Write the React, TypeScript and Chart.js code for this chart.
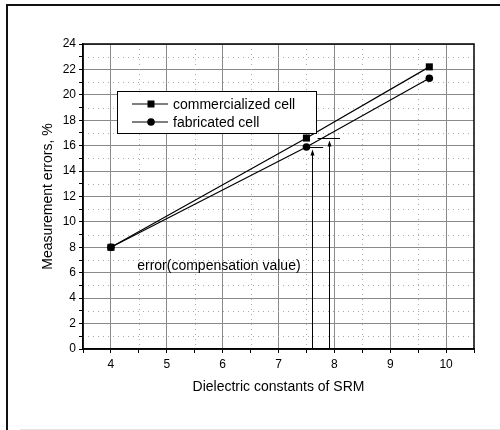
import React, { useEffect, useRef } from 'react';
import { Chart, registerables } from 'chart.js';

Chart.register(...registerables);

// ---- data ----
const xValues = [4, 7.5, 9.7];
const commercialized = [8, 16.6, 22.2];
const fabricated = [8, 15.9, 21.3];
const seriesLabels = ['commercialized cell', 'fabricated cell'];
const xAxisTitle = 'Dielectric constants of SRM';
const yAxisTitle = 'Measurement errors, %';

// annotation (data coordinates)
const arrowX = [7.6, 7.9];
const arrowTop = [15.7, 16.4];
const leaderY = [15.9, 16.6];
const leaderFrom = [7.5, 7.7];
const leaderTo = [7.8, 8.1];
const noteText = 'error(compensation value)';
const notePos = [4.47, 6.2];

const FONT = '"Liberation Sans", Arial, sans-serif';
const MAJOR_GRID = '#8a8a8a';

const isInt = (v: number) => Math.abs(v - Math.round(v)) < 1e-6;

const decor = {
  id: 'decor',
  beforeDatasetsDraw(chart: any) {
    const { ctx, chartArea: a, scales } = chart;
    const x = scales.x, y = scales.y;
    ctx.save();
    ctx.strokeStyle = '#aaaaaa';
    ctx.lineWidth = 1;
    ctx.setLineDash([1, 4]);
    for (let v = 4.5; v < 10.5; v += 1) {
      const px = Math.round(x.getPixelForValue(v)) + 0.5;
      ctx.beginPath();
      ctx.moveTo(px, a.top);
      ctx.lineTo(px, a.bottom);
      ctx.stroke();
    }
    for (let v = 1; v < 24; v += 2) {
      const py = Math.round(y.getPixelForValue(v)) + 0.5;
      ctx.beginPath();
      ctx.moveTo(a.left, py);
      ctx.lineTo(a.right, py);
      ctx.stroke();
    }
    ctx.restore();
  },
  afterDatasetsDraw(chart: any) {
    const { ctx, chartArea: a, scales } = chart;
    const x = scales.x, y = scales.y;
    ctx.save();
    // plot frame
    ctx.strokeStyle = '#000';
    ctx.lineWidth = 1.5;
    ctx.strokeRect(a.left, a.top, a.right - a.left, a.bottom - a.top);

    // arrows
    ctx.lineWidth = 1;
    ctx.fillStyle = '#000';
    for (let i = 0; i < arrowX.length; i++) {
      const px = Math.round(x.getPixelForValue(arrowX[i])) + 0.5;
      const pyTop = y.getPixelForValue(arrowTop[i]);
      const pyBot = y.getPixelForValue(0);
      ctx.beginPath();
      ctx.moveTo(px, pyBot);
      ctx.lineTo(px, pyTop + 4);
      ctx.stroke();
      ctx.beginPath();
      ctx.moveTo(px, pyTop);
      ctx.lineTo(px - 2, pyTop + 6);
      ctx.lineTo(px + 2, pyTop + 6);
      ctx.closePath();
      ctx.fill();
      const ly = Math.round(y.getPixelForValue(leaderY[i])) + 0.5;
      ctx.beginPath();
      ctx.moveTo(x.getPixelForValue(leaderFrom[i]), ly);
      ctx.lineTo(x.getPixelForValue(leaderTo[i]), ly);
      ctx.stroke();
    }

    // note text
    ctx.font = `14px ${FONT}`;
    ctx.fillStyle = '#000';
    ctx.textAlign = 'left';
    ctx.textBaseline = 'alphabetic';
    ctx.fillText(noteText, x.getPixelForValue(notePos[0]), y.getPixelForValue(notePos[1]));

    // legend
    const lx = a.left + 34, ly0 = a.top + 47, lw = 199, lh = 42;
    ctx.fillStyle = '#fff';
    ctx.fillRect(lx, ly0, lw, lh);
    ctx.strokeStyle = '#000';
    ctx.lineWidth = 1;
    ctx.strokeRect(lx + 0.5, ly0 + 0.5, lw, lh);
    const rows = [ly0 + 13, ly0 + 31];
    chart.data.datasets.forEach((ds: any, i: number) => {
      const ry = rows[i];
      ctx.strokeStyle = '#000';
      ctx.lineWidth = 1.2;
      ctx.beginPath();
      ctx.moveTo(lx + 15, ry);
      ctx.lineTo(lx + 51, ry);
      ctx.stroke();
      ctx.fillStyle = '#000';
      const mx = lx + 34;
      if (ds.pointStyle === 'rect') {
        ctx.fillRect(mx - 3.5, ry - 3.5, 7, 7);
      } else {
        ctx.beginPath();
        ctx.arc(mx, ry, 3.8, 0, Math.PI * 2);
        ctx.fill();
      }
      ctx.font = `14px ${FONT}`;
      ctx.textBaseline = 'middle';
      ctx.fillText(ds.label, lx + 56, ry + 1);
    });

    ctx.restore();
  },
  afterDraw(chart: any) {
    const { ctx } = chart;
    ctx.save();
    ctx.strokeStyle = '#111';
    ctx.lineWidth = 2;
    ctx.beginPath();
    ctx.moveTo(7, 430);
    ctx.lineTo(7, 5);
    ctx.lineTo(500, 5);
    ctx.stroke();
    ctx.strokeStyle = '#e2e2e2';
    ctx.lineWidth = 1;
    ctx.beginPath();
    ctx.moveTo(20, 429.5);
    ctx.lineTo(500, 429.5);
    ctx.stroke();
    ctx.restore();
  },
};

export default function App() {
  const ref = useRef<HTMLCanvasElement | null>(null);

  useEffect(() => {
    if (!ref.current) return;
    const tickFont = { family: FONT, size: 12 };
    const titleFont = { family: FONT, size: 14 };
    const chart = new Chart(ref.current, {
      type: 'line',
      data: {
        datasets: [
          {
            label: seriesLabels[0],
            data: xValues.map((v, i) => ({ x: v, y: commercialized[i] })),
            borderColor: '#000',
            backgroundColor: '#000',
            borderWidth: 1.2,
            pointStyle: 'rect',
            pointRadius: 5,
            pointBorderWidth: 0,
          },
          {
            label: seriesLabels[1],
            data: xValues.map((v, i) => ({ x: v, y: fabricated[i] })),
            borderColor: '#000',
            backgroundColor: '#000',
            borderWidth: 1.2,
            pointStyle: 'circle',
            pointRadius: 3.8,
            pointBorderWidth: 0,
          },
        ],
      },
      options: {
        animation: false,
        responsive: false,
        maintainAspectRatio: false,
        layout: { padding: { left: 40, top: 44, right: 26, bottom: 34 } },
        plugins: { legend: { display: false }, tooltip: { enabled: false } },
        scales: {
          x: {
            type: 'linear',
            min: 3.5,
            max: 10.5,
            ticks: {
              stepSize: 0.5,
              autoSkip: false,
              maxRotation: 0,
              padding: 4,
              color: '#000',
              font: tickFont,
              callback: (v: any) => (isInt(Number(v)) ? String(Math.round(Number(v))) : ''),
            },
            grid: {
              color: (c: any) => (c.tick && isInt(c.tick.value) ? MAJOR_GRID : 'rgba(0,0,0,0)'),
              tickColor: '#000',
              tickLength: 4,
              lineWidth: 1,
            },
            border: { color: '#000', width: 1.5 },
            title: { display: true, text: xAxisTitle, font: titleFont, color: '#000', padding: 0 },
            afterFit: (s: any) => { s.height = 47; },
          },
          y: {
            type: 'linear',
            min: 0,
            max: 24,
            ticks: {
              stepSize: 1,
              autoSkip: false,
              padding: 3,
              color: '#000',
              font: tickFont,
              callback: (v: any) => (Math.round(Number(v)) % 2 === 0 ? String(Math.round(Number(v))) : ''),
            },
            grid: {
              color: (c: any) => (c.tick && Math.round(c.tick.value) % 2 === 0 ? MAJOR_GRID : 'rgba(0,0,0,0)'),
              tickColor: '#000',
              tickLength: 4,
              lineWidth: 1,
            },
            border: { color: '#000', width: 1.5 },
            title: { display: true, text: yAxisTitle, font: titleFont, color: '#000', padding: 0 },
            afterFit: (s: any) => { s.width = 43; },
          },
        },
      },
      plugins: [decor],
    } as any);
    return () => chart.destroy();
  }, []);

  return (
    <div style={{ position: 'absolute', left: 0, top: 0, width: 500, height: 430, background: '#fff' }}>
      <canvas ref={ref} width={500} height={430} style={{ width: 500, height: 430, display: 'block' }} />
    </div>
  );
}
